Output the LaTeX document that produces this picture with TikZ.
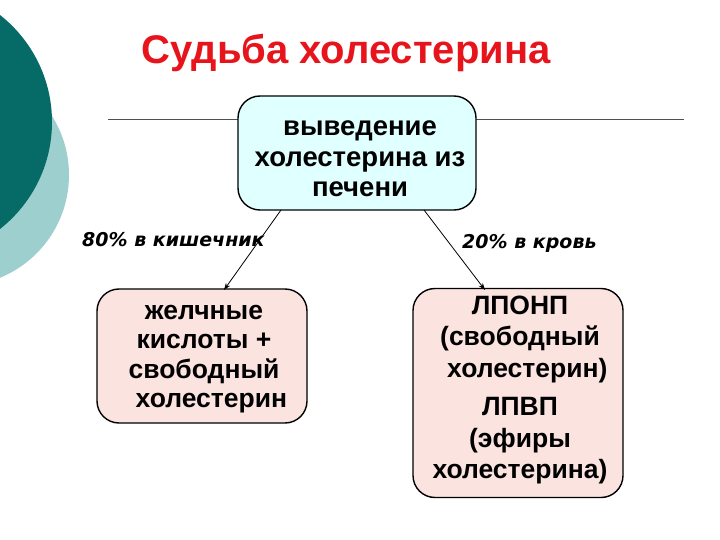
\documentclass[tikz,border=0pt]{standalone}
\usepackage{fontspec}
\setmainfont{Liberation Sans}
\newfontfamily\labelfont{DejaVu Sans}
\usetikzlibrary{arrows.meta}
\definecolor{darkteal}{HTML}{066A66}
\definecolor{lightteal}{HTML}{9ECFCF}
\definecolor{titlered}{HTML}{E8141C}
\definecolor{cyanfill}{HTML}{E0FFFF}
\definecolor{pinkfill}{HTML}{FBE4E0}
\definecolor{rulegray}{HTML}{505050}
\tikzset{
  boxstyle/.style={draw=black, line width=1.4pt, rounded corners=22pt, inner sep=0pt},
  textstyle/.style={align=center, inner sep=0pt},
  arrowstyle/.style={draw=black, line width=0.8pt, -{Stealth[length=7pt,width=5pt]}},
  labelstyle/.style={font=\labelfont\bfseries\itshape\fontsize{19}{22}\selectfont, anchor=base west, inner sep=0pt}
}
\begin{document}
\begin{tikzpicture}[x=1pt,y=-1pt]
\useasboundingbox (0,0) rectangle (720,540);
\fill[white] (0,0) rectangle (720,540);
% decorative circles
\begin{scope}
\clip (0,0) rectangle (720,540);
\fill[lightteal] (-42,175) circle (111);
\fill[darkteal] (-84,122) circle (136);
\end{scope}
% title
\node[font=\bfseries\fontsize{40}{44}\selectfont, text=titlered, anchor=base, inner sep=0pt] (title) at (346,64) {Судьба холестерина};
% rule
\coordinate (ruleL) at (108,120);
\coordinate (ruleR) at (684,120);
\draw[rulegray, line width=1pt] (ruleL) -- (ruleR);
% boxes
\node[boxstyle, fill=cyanfill, minimum width=238pt, minimum height=114pt] (top) at (357,153) {};
\node[boxstyle, fill=pinkfill, minimum width=210pt, minimum height=134pt] (left) at (202,356) {};
\node[boxstyle, fill=pinkfill, minimum width=210pt, minimum height=209pt] (right) at (518,393) {};
% texts
\node[textstyle, font=\bfseries\fontsize{27.5}{30.5}\selectfont] (toptext) at (360,159) {выведение\\холестерина из\\печени};
\node[textstyle, font=\bfseries\fontsize{26.5}{29.3}\selectfont] (lefttext) at (204,359) {желчные\\кислоты +\\свободный\\\ \ холестерин};
\node[textstyle, font=\bfseries\fontsize{26.5}{31.5}\selectfont] (righttext) at (520,390) {ЛПОНП\\(свободный\\\ \ холестерин)\\[7pt]ЛПВП\\(эфиры\\холестерина)};
% arrows
\coordinate (a1) at (281,210);
\coordinate (a2) at (424,210);
\draw[arrowstyle] (a1) -- (224,290);
\draw[arrowstyle] (a2) -- (485,290);
% labels
\node[labelstyle] (lab1) at (82,247) {80\% в кишечник};
\node[labelstyle] (lab2) at (462,248) {20\% в кровь};
\end{tikzpicture}
\end{document}
